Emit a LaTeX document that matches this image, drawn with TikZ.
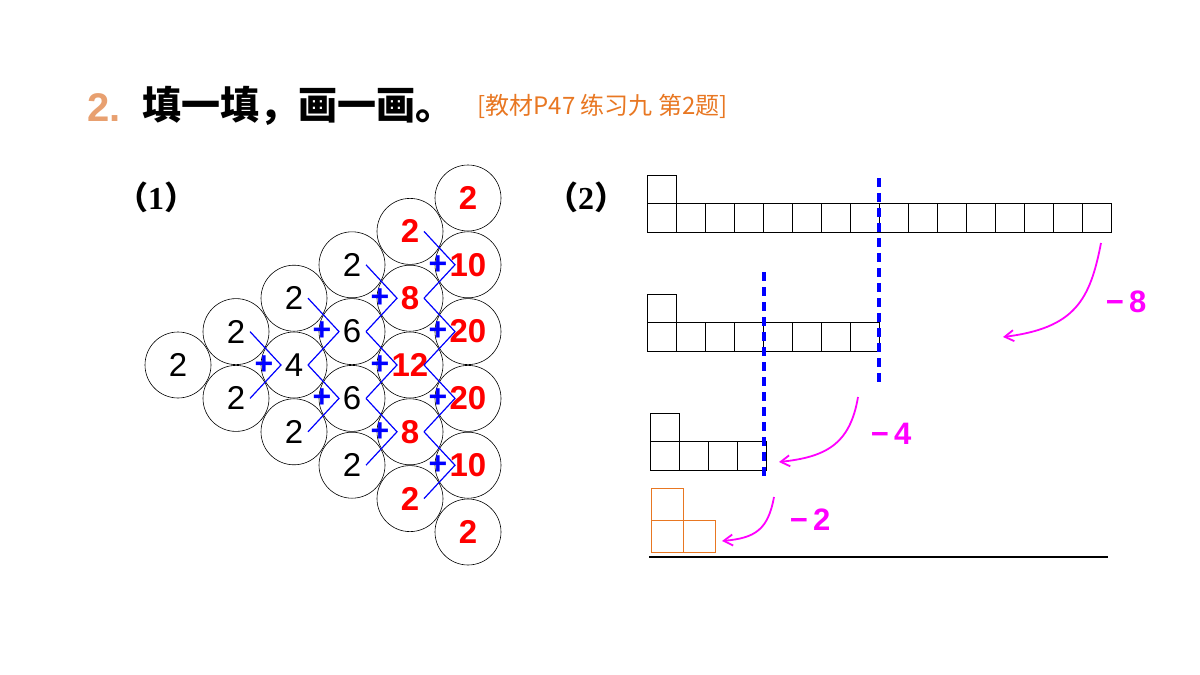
\documentclass[tikz,border=0pt]{standalone}
\usepackage{fontspec}
\setmainfont{Liberation Sans}
\newfontfamily\cjk{Noto Sans CJK SC}
\newfontfamily\serifnum{Liberation Serif}
\usetikzlibrary{arrows.meta,calc}
\definecolor{titleorange}{HTML}{E8A070}
\definecolor{srcorange}{HTML}{E87722}
\definecolor{takepink}{HTML}{FF00FF}
\definecolor{sumblue}{HTML}{0000FF}
\definecolor{numred}{HTML}{FF0000}
\tikzset{ball/.style={circle,draw,line width=0.6pt,minimum size=66pt,inner sep=0pt},
  sumline/.style={sumblue,line width=1.2pt},
  cell/.style={draw,line width=0.8pt},
  cut/.style={sumblue,line width=3.2pt,dash pattern=on 9pt off 6pt},
  take/.style={takepink,line width=1.8pt,-{Straight Barb[length=9pt,width=11pt]}},
  takelabel/.style={takepink,font=\fontsize{31}{32}\selectfont\bfseries}}
\begin{document}
\begin{tikzpicture}[x=1pt,y=-1pt]
\useasboundingbox (0,0) rectangle (1200,675);
% title
\node (num) [anchor=west,text=titleorange,font=\fontsize{40}{42}\selectfont\bfseries] at (84,108) {2.};
\node (title) [anchor=west,font=\fontsize{39}{42}\selectfont\cjk\bfseries] at (139,106) {填一填，画一画。};
\node (src) [anchor=west,text=srcorange,font=\fontsize{24}{26}\selectfont\cjk] at (474,106) {[教材P47 练习九 第2题]};
\node (p1) [font=\fontsize{32}{34}\selectfont\cjk\bfseries] at (156,197) {（{\serifnum 1}）};
\node (p2) [font=\fontsize{32}{34}\selectfont\cjk\bfseries] at (586,197) {（{\serifnum 2}）};
% triangle of balls
\foreach \k/\j/\v/\c in {0/0/2/black,1/0/2/black,1/1/2/black,2/0/2/black,2/1/4/black,2/2/2/black,
  3/0/2/black,3/1/6/black,3/2/6/black,3/3/2/black,4/0/2/numred,4/1/8/numred,4/2/12/numred,4/3/8/numred,4/4/2/numred,
  5/0/2/numred,5/1/10/numred,5/2/20/numred,5/3/20/numred,5/4/10/numred,5/5/2/numred}
  \node (c-\k-\j) [ball,text=\c,font=\fontsize{33}{34}\selectfont\ifnum\k>3\bfseries\fi] at ({178+58*\k},{365+66.8*(\j-\k/2)}) {\v};
\foreach \k/\j in {2/1,3/1,3/2,4/1,4/2,4/3,5/1,5/2,5/3,5/4}{
  \pgfmathtruncatemacro\p{\k-1}\pgfmathtruncatemacro\q{\j-1}
  \draw[sumline] ($(c-\p-\q)+(14,0)$) -- ($(c-\k-\j)+(-13,0)$) -- ($(c-\p-\j)+(14,0)$);
  \node (plus-\k-\j) [sumblue,font=\fontsize{32}{32}\selectfont\bfseries] at ($(c-\k-\j)+(-30,0)$) {+};
}
% rows of squares
\foreach \n/\x/\y in {16/647/175,8/647/294,4/650/413}{
  \draw[cell] (\x,\y) rectangle ++(29,28.5);
  \foreach \i in {1,...,\n}
    \draw[cell] ({\x+(\i-1)*29},\y+28.5) rectangle ++(29,28.5);
}
\draw[cell,srcorange] (651,488) rectangle ++(32,32);
\draw[cell,srcorange] (651,520) rectangle ++(32,32) (683,520) rectangle ++(32,32);
\draw[line width=1.5pt] (649,557) -- (1108,557);
% cuts
\coordinate (cut1a) at (879,178); \coordinate (cut1b) at (879,387);
\coordinate (cut2a) at (764,272); \coordinate (cut2b) at (764,480);
\draw[cut] (cut1a) -- (cut1b);
\draw[cut] (cut2a) -- (cut2b);
% take away arrows
\coordinate (a1) at (1101,243); \coordinate (b1) at (1003,337);
\coordinate (a2) at (858,397); \coordinate (b2) at (779,462);
\coordinate (a3) at (774,497); \coordinate (b3) at (722,541);
\draw[take] (a1) .. controls (1090,300) and (1075,328) .. (b1);
\draw[take] (a2) .. controls (850,445) and (825,457) .. (b2);
\draw[take] (a3) .. controls (768,530) and (755,538) .. (b3);
\node (m8) [takelabel] at (1126,302) {−\,8};
\node (m4) [takelabel] at (891,434) {−\,4};
\node (m2) [takelabel] at (810,520) {−\,2};
\end{tikzpicture}
\end{document}
